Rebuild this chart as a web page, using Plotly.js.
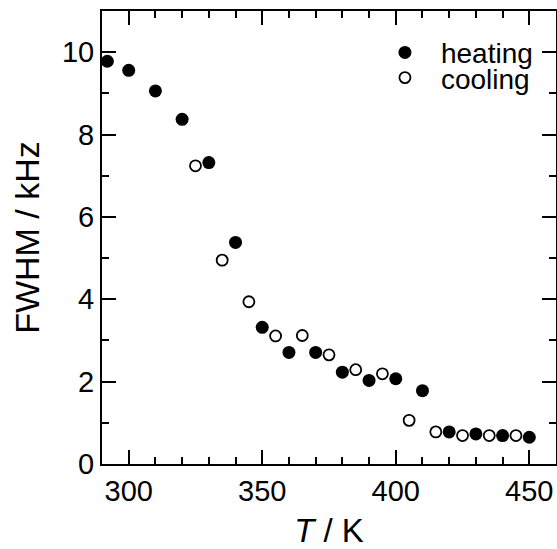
<!DOCTYPE html>
<html>
<head>
<meta charset="utf-8">
<script src="https://cdn.plot.ly/plotly-3.0.1.min.js"></script>
<style>body{margin:0;background:#fff}</style>
</head>
<body>
<div id="chart" style="width:557px;height:549px"></div>
<script>
const heatingT = [292, 300, 310, 320, 330, 340, 350, 360, 370, 380, 390, 400, 410, 420, 430, 440, 450];
const heatingFWHM = [9.78, 9.56, 9.06, 8.37, 7.32, 5.38, 3.32, 2.71, 2.71, 2.23, 2.03, 2.07, 1.78, 0.78, 0.73, 0.69, 0.65];
const coolingT = [325, 335, 345, 355, 365, 375, 385, 395, 405, 415, 425, 435, 445];
const coolingFWHM = [7.24, 4.95, 3.94, 3.11, 3.12, 2.65, 2.29, 2.19, 1.06, 0.78, 0.69, 0.69, 0.69];
const seriesNames = ['heating', 'cooling'];

const FONT = 'Liberation Sans, Arial, Helvetica, sans-serif';

const traces = [
  {
    x: heatingT, y: heatingFWHM, name: seriesNames[0], type: 'scatter', mode: 'markers',
    marker: {symbol: 'circle', size: 13, color: '#000', line: {width: 0}},
    legend: 'legend'
  },
  {
    x: coolingT, y: coolingFWHM, name: seriesNames[1], type: 'scatter', mode: 'markers',
    marker: {symbol: 'circle', size: 11, color: '#fff', line: {width: 1.8, color: '#000'}},
    legend: 'legend2'
  }
];

const axisCommon = {
  showline: true, linecolor: '#000', linewidth: 2, mirror: 'allticks',
  ticks: 'inside', ticklen: 14, tickwidth: 2, tickcolor: '#000',
  showgrid: false, zeroline: false,
  tickfont: {family: FONT, size: 29, color: '#000'}
};

const legendCommon = {
  xanchor: 'left', yanchor: 'top', itemwidth: 62,
  bgcolor: 'rgba(0,0,0,0)', borderwidth: 0,
  font: {family: FONT, size: 28, color: '#000'}
};

const layout = {
  width: 557, height: 549,
  margin: {l: 102, r: 1, t: 11, b: 85},
  paper_bgcolor: '#fff', plot_bgcolor: '#fff',
  font: {family: FONT, color: '#000'},
  showlegend: true,
  xaxis: Object.assign({}, axisCommon, {
    range: [290, 460], tick0: 300, dtick: 50,
    minor: {dtick: 10, tick0: 300, ticks: 'inside', ticklen: 7, tickwidth: 2, tickcolor: '#000', showgrid: false},
    title: {text: '<i>T</i> / K', font: {family: FONT, size: 33, color: '#000'}, standoff: 15}
  }),
  yaxis: Object.assign({}, axisCommon, {
    range: [0, 11], tick0: 0, dtick: 2,
    minor: {dtick: 1, tick0: 0, ticks: 'inside', ticklen: 7, tickwidth: 2, tickcolor: '#000', showgrid: false},
    title: {text: 'FWHM / kHz', font: {family: FONT, size: 34, color: '#000'}, standoff: 12}
  }),
  legend: Object.assign({}, legendCommon, {x: 0.588, y: 0.963}),
  legend2: Object.assign({}, legendCommon, {x: 0.588, y: 0.9075})
};

Plotly.newPlot('chart', traces, layout, {displayModeBar: false, staticPlot: true});
</script>
</body>
</html>
